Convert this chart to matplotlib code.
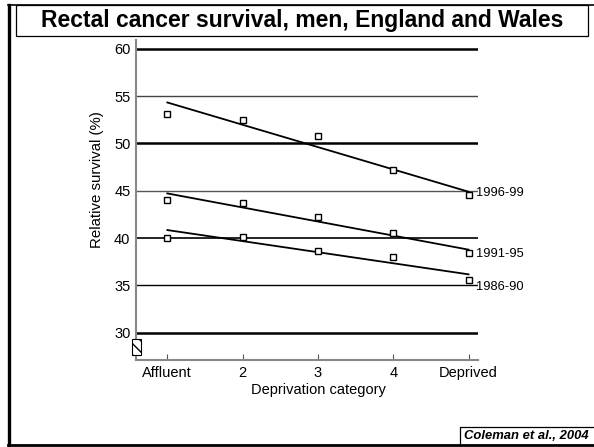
import numpy as np
import matplotlib
matplotlib.use('Agg')
import matplotlib.pyplot as plt
from matplotlib.patches import Rectangle
from matplotlib.lines import Line2D

plt.rcParams['font.family'] = ['Liberation Sans', 'DejaVu Sans']

# data
categories = ['Affluent', '2', '3', '4', 'Deprived']
periods = ['1996-99', '1991-95', '1986-90']
survival = {
    '1996-99': [53.06, 52.43, 50.78, 47.2, 44.55],
    '1991-95': [43.98, 43.74, 42.19, 40.5, 38.46],
    '1986-90': [40.0, 40.15, 38.64, 38.04, 35.6],
}
# fitted trend lines (value at Affluent, value at Deprived)
trend_start = [54.33, 44.72, 40.85]
trend_end = [44.9, 38.78, 36.17]
label_y = [44.73, 38.32, 34.8]
yticks = [30, 35, 40, 45, 50, 55, 60]

W, H = 594, 447
fig = plt.figure(figsize=(W / 100, H / 100), dpi=100)

def fx(px):
    return px / W

def fy(py):
    return 1 - py / H

ax = fig.add_axes([fx(136), fy(360), fx(478) - fx(136), fy(40) - fy(360)])
x = np.arange(1, len(categories) + 1)
ax.set_xlim(0.584, 5.126)
ax.set_ylim(27.12, 60.93)

# horizontal grid lines
grid_style = {60: (1.8, 'black'), 55: (1.0, '#444444'), 50: (1.8, 'black'),
              45: (1.0, '#555555'), 40: (1.2, 'black'), 35: (1.0, 'black'),
              30: (1.8, 'black')}
for yv in yticks:
    lw, c = grid_style[yv]
    ax.axhline(yv, color=c, lw=lw, zorder=1)

for i, p in enumerate(periods):
    ax.plot([x[0], x[-1]], [trend_start[i], trend_end[i]], color='black', lw=1.3, zorder=2)
    ax.plot(x, survival[p], ls='none', marker='s', ms=4.5, mfc='white', mec='black',
            mew=1.0, zorder=3, clip_on=False)
    ax.text(5.1, label_y[i], p, fontsize=9.3, va='center', ha='left')

ax.set_xticks(x)
ax.set_xticklabels(categories, fontsize=10.5)
ax.set_yticks(yticks)
ax.set_yticklabels([str(v) for v in yticks], fontsize=10.5)
ax.tick_params(axis='x', direction='in', length=4.5, color='#555555', pad=4)
ax.tick_params(axis='y', length=0, pad=4)
for s in ['top', 'right']:
    ax.spines[s].set_visible(False)
for s in ['left', 'bottom']:
    ax.spines[s].set_color('#888888')
    ax.spines[s].set_linewidth(1.5)

# axis break symbol
brk = Rectangle((0.527, 27.64), 0.124, 1.66, facecolor='white', edgecolor='black',
                lw=0.8, hatch='\\\\\\', clip_on=False, zorder=5)
ax.add_patch(brk)

fig.text(fx(318), fy(390), 'Deprivation category', fontsize=10.5, ha='center', va='center')
fig.text(fx(97), fy(180), 'Relative survival (%)', fontsize=10.8, ha='center', va='center',
         rotation=90)

# frame, title box, citation box
fig.add_artist(Line2D([fx(8.5), fx(8.5)], [fy(5), fy(446)], color='black', lw=2.4))
fig.add_artist(Line2D([fx(8), fx(594)], [fy(5), fy(5)], color='black', lw=1.2))
fig.add_artist(Line2D([fx(8), fx(594)], [fy(445), fy(445)], color='black', lw=2.0))
fig.add_artist(Rectangle((fx(16), fy(36)), fx(588) - fx(16), fy(5) - fy(36),
                         facecolor='none', edgecolor='black', lw=0.9))
fig.add_artist(Line2D([fx(460), fx(460), fx(594)], [fy(445), fy(427), fy(427)],
                      color='black', lw=0.9))
fig.text(fx(302), fy(21), 'Rectal cancer survival, men, England and Wales',
         fontsize=16.5, fontweight='bold', ha='center', va='center')
fig.text(fx(526.5), fy(436), 'Coleman et al., 2004', fontsize=9.4, fontweight='bold',
         fontstyle='italic', ha='center', va='center')

fig.savefig('out.png', dpi=100)
